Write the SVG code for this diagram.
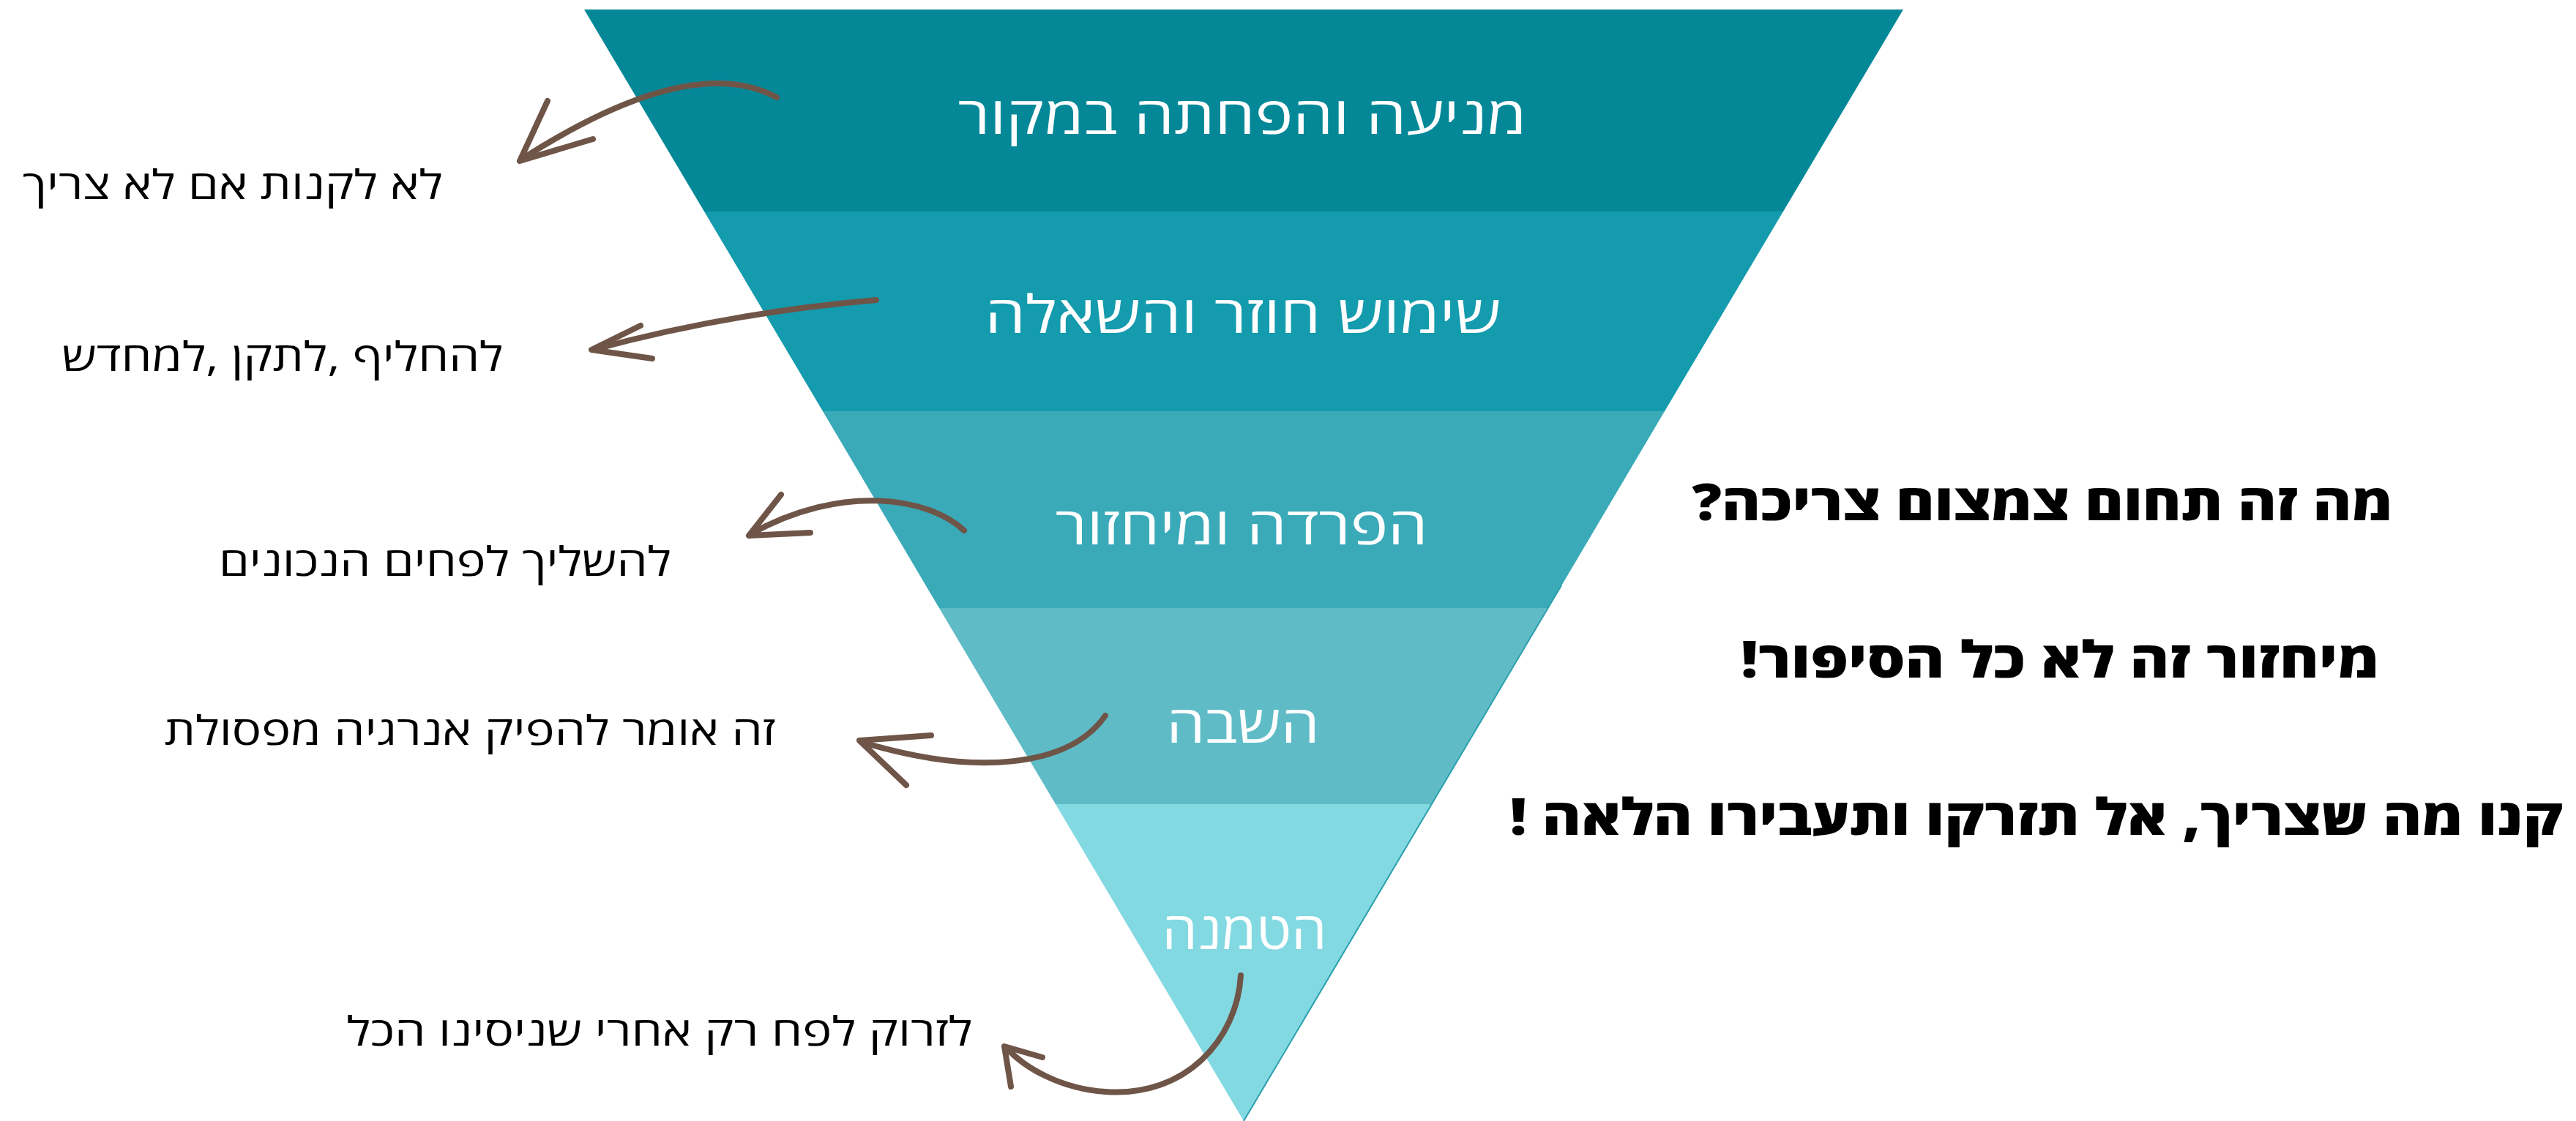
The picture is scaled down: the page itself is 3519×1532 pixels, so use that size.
<svg xmlns="http://www.w3.org/2000/svg" width="3519" height="1532" viewBox="0 0 3519 1532">
<style>
.band-label{font-family:"Open Sans","DejaVu Sans","Liberation Sans",sans-serif;font-size:71px;fill:#ffffff;text-anchor:middle;direction:rtl}
.side{font-family:"Open Sans","DejaVu Sans","Liberation Sans",sans-serif;font-size:55px;fill:#000000;text-anchor:middle;direction:rtl}
.bold{font-family:"Open Sans","DejaVu Sans","Liberation Sans",sans-serif;font-size:69px;font-weight:800;fill:#000000;text-anchor:middle;direction:rtl}
.arrow{fill:none;stroke:#6f5548;stroke-width:8;stroke-linecap:round;stroke-linejoin:round}
</style>
<rect width="3519" height="1532" fill="#ffffff"/>
<g id="band1">
<polygon points="798,13 2600,13 2436,289 962,289" fill="#048898"/>
<text class="band-label" x="1697" y="183" textLength="777" lengthAdjust="spacingAndGlyphs" direction="rtl">מניעה והפחתה במקור</text>
</g>
<g id="band2">
<polygon points="962,289 2436,289 2274,562 1124,562" fill="#149bad"/>
<text class="band-label" x="1698" y="455" textLength="705" lengthAdjust="spacingAndGlyphs" direction="rtl">שימוש חוזר והשאלה</text>
</g>
<g id="band3">
<polygon points="1124,562 2274,562 2115,831 1283,831" fill="#3aaab8"/>
<text class="band-label" x="1696" y="744" textLength="509" lengthAdjust="spacingAndGlyphs" direction="rtl">הפרדה ומיחזור</text>
</g>
<g id="band4">
<polygon points="1283,831 2115,831 1956,1099 1442,1099" fill="#5fbcc7"/>
<text class="band-label" x="1698" y="1015" textLength="209" lengthAdjust="spacingAndGlyphs" direction="rtl">השבה</text>
</g>
<g id="band5">
<polygon points="1442,1099 1956,1099 1699,1532" fill="#83d9e2"/>
<text class="band-label" x="1700" y="1297" textLength="225" lengthAdjust="spacingAndGlyphs" direction="rtl">הטמנה</text>
</g>
<line x1="2133" y1="800" x2="1699" y2="1532" stroke="#2a9fad" stroke-width="2"/>
<g id="connectors">
<path class="arrow" d="M1061,133 C990,95 880,110 712,218"/>
<path class="arrow" d="M748,138 L710,220 L810,190"/>
<path class="arrow" d="M1197,410 C1080,420 950,440 810,478"/>
<path class="arrow" d="M875,445 L808,478 L891,490"/>
<path class="arrow" d="M1317,725 C1270,680 1150,660 1025,730"/>
<path class="arrow" d="M1067,676 L1023,732 L1107,728"/>
<path class="arrow" d="M1510,978 C1460,1050 1330,1060 1180,1015"/>
<path class="arrow" d="M1272,1005 L1174,1012 L1238,1073"/>
<path class="arrow" d="M1695,1333 C1690,1420 1620,1500 1510,1492 C1450,1488 1400,1460 1375,1432"/>
<path class="arrow" d="M1381,1485 L1372,1430 L1424,1445"/>
</g>
<g id="side-labels">
<text id="t1" class="side" x="318" y="272" textLength="574" lengthAdjust="spacingAndGlyphs" direction="rtl">לא לקנות אם לא צריך</text>
<text id="t2" class="side" x="386" y="507" textLength="603" lengthAdjust="spacingAndGlyphs" direction="rtl">להחליף ,לתקן ,למחדש</text>
<text id="t3" class="side" x="608" y="787" textLength="618" lengthAdjust="spacingAndGlyphs" direction="rtl">להשליך לפחים הנכונים</text>
<text id="t4" class="side" x="642" y="1018" textLength="835" lengthAdjust="spacingAndGlyphs" direction="rtl">זה אומר להפיק אנרגיה מפסולת</text>
<text id="t5" class="side" x="901" y="1429" textLength="855" lengthAdjust="spacingAndGlyphs" direction="rtl">לזרוק לפח רק אחרי שניסינו הכל</text>
</g>
<g id="messages">
<text class="bold" x="2790" y="711" textLength="957" lengthAdjust="spacingAndGlyphs" direction="rtl">מה זה תחום צמצום צריכה?</text>
<text class="bold" x="2814" y="926" textLength="872" lengthAdjust="spacingAndGlyphs" direction="rtl">מיחזור זה לא כל הסיפור!</text>
<text class="bold" x="2782" y="1141" textLength="1439" lengthAdjust="spacingAndGlyphs" direction="rtl">קנו מה שצריך, אל תזרקו ותעבירו הלאה !</text>
</g>
</svg>
